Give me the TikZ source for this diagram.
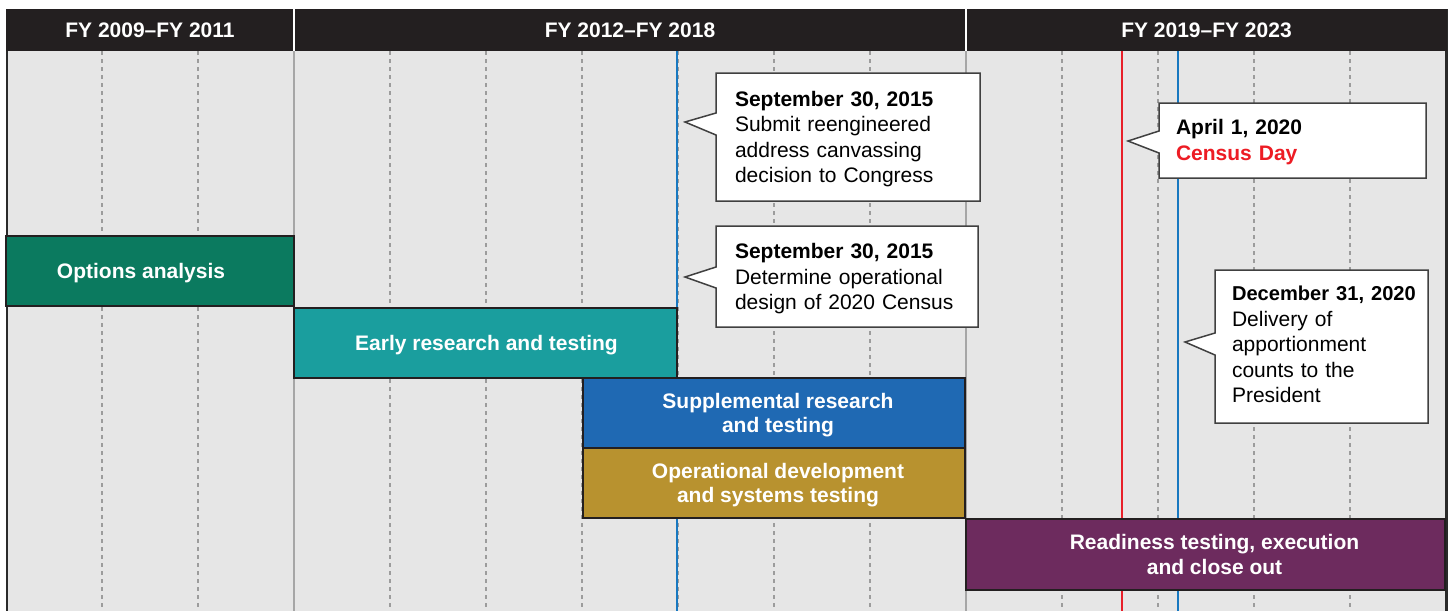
\documentclass[tikz,border=0pt]{standalone}
\usepackage{fontspec}
\setmainfont{Liberation Sans}
\usetikzlibrary{calc}

\definecolor{headbg}{HTML}{231F20}
\definecolor{panelbg}{HTML}{E6E6E6}
\definecolor{gridgray}{HTML}{9C9C9C}
\definecolor{sepgray}{HTML}{A6A6A6}
\definecolor{framedark}{HTML}{2A2A2A}
\definecolor{barline}{HTML}{231F20}
\definecolor{optgreen}{HTML}{0B7A5F}
\definecolor{earlyteal}{HTML}{1A9E9E}
\definecolor{suppblue}{HTML}{1F69B3}
\definecolor{opergold}{HTML}{B8922F}
\definecolor{readyplum}{HTML}{6D2B5E}
\definecolor{markblue}{HTML}{1878C0}
\definecolor{markred}{HTML}{E8202A}
\definecolor{censusred}{HTML}{ED1C24}
\definecolor{balloonline}{HTML}{404040}

\pgfdeclarelayer{grid}
\pgfdeclarelayer{balloons}
\pgfsetlayers{grid,balloons,main}

% indent used to nudge a centred bar label sideways
\newcommand{\nudge}[1]{\hspace*{#1}}

\begin{document}
\begin{tikzpicture}[x=1pt,y=-1pt,
  txt/.style={font=\fontsize{21}{25.5}\selectfont},
  hdr/.style={txt,font=\fontsize{21}{25.5}\selectfont\bfseries,fill=headbg,text=white,
    anchor=north west,inner sep=0,outer sep=0,minimum height=42},
  bar/.style={txt,font=\fontsize{21}{24.5}\selectfont\bfseries,draw=barline,line width=2,
    text=white,align=center,anchor=north west,inner sep=0,outer sep=0,text depth=0pt},
  balloon/.style={txt,anchor=north west,align=left,outer sep=0,inner ysep=0},
  balloonedge/.style={draw=balloonline,fill=white,line width=1.5,line join=miter},
  gridline/.style={draw=gridgray,line width=1.5,dash pattern=on 3.5pt off 4.5pt},
  sepline/.style={draw=sepgray,line width=2},
  marker/.style={line width=2.5},
]
\useasboundingbox (0,0) rectangle (1449,611);

% ---------- panel, grid and date markers ----------
\begin{pgfonlayer}{grid}
  \fill[panelbg] (6,51) rectangle (1445,611);
  \foreach \k in {1,2,4,5,6,7,8,9,11,12,13,14}
    \draw[gridline] (6+96*\k,51) -- (6+96*\k,611);
  \draw[sepline] (294,51) -- (294,611);
  \draw[sepline] (966,51) -- (966,611);
  \draw[marker,markblue] (677,51) -- (677,611);
  \draw[marker,markred] (1122,51) -- (1122,611);
  \draw[marker,markblue] (1178,51) -- (1178,611);
  \draw[framedark,line width=2] (7,9) -- (7,611);
  \draw[framedark,line width=3] (1446,9) -- (1446,611);
\end{pgfonlayer}

% ---------- period headers ----------
\node[hdr,minimum width=288] (h1) at (6,9) {FY 2009–FY 2011};
\node[hdr,minimum width=672] (h2) at (294,9) {FY 2012–FY 2018};
\node[hdr,minimum width=481] (h3) at (966,9) {FY 2019–FY 2023};
\draw[white,line width=1.5] (h1.north east) -- (h1.south east);
\draw[white,line width=1.5] (h2.north east) -- (h2.south east);

% ---------- activity bars ----------
\node[bar,fill=optgreen,minimum width=288,minimum height=70] (opt) at (6,236)
  {\nudge{-18pt}Options analysis};
\node[bar,fill=earlyteal,minimum width=383,minimum height=70] (early) at (294,308)
  {\nudge{2pt}Early research and testing};
\node[bar,fill=suppblue,minimum width=382,minimum height=70] (supp) at (583,378)
  {\nudge{8pt}Supplemental research\\\nudge{8pt}and testing};
\node[bar,fill=opergold,minimum width=382,minimum height=70] (oper) at (583,448)
  {\nudge{8pt}Operational development\\\nudge{8pt}and systems testing};
\node[bar,fill=readyplum,minimum width=479,minimum height=71] (ready) at (966,519)
  {\nudge{18pt}Readiness testing, execution\\\nudge{18pt}and close out};

% ---------- milestone balloons ----------
\coordinate (t1) at (685,122);
\coordinate (t2) at (685,277);
\coordinate (t3) at (1128,141);
\coordinate (t4) at (1185,342);

\node[balloon,inner xsep=19,text width=226,minimum height=128,text height=19.5pt] (c1) at (716,73)
  {\textbf{September~30,~2015}\\Submit~reengineered\\address~canvassing\\decision~to~Congress};
\node[balloon,inner xsep=19,text width=224,minimum height=101,text height=20pt] (c2) at (716,226)
  {\textbf{September~30,~2015}\\Determine~operational\\design~of~2020~Census};
\node[balloon,inner xsep=17,text width=233,minimum height=75,text height=18.5pt] (c3) at (1159,103)
  {\textbf{April~1,~2020}\\\textcolor{censusred}{\textbf{Census~Day}}};
\node[balloon,inner xsep=17,text width=179,minimum height=153,text height=10.5pt] (c4) at (1215,270)
  {{\fontsize{20.1}{25.5}\selectfont\textbf{December~31,~2020}}\\Delivery~of\\apportionment\\counts~to~the\\President};

\begin{pgfonlayer}{balloons}
  \path[balloonedge] (c1.north west) -- (c1.north east) -- (c1.south east) -- (c1.south west)
    -- ($(c1.north west)+(0,62)$) -- (t1) -- ($(c1.north west)+(0,40)$) -- cycle;
  \path[balloonedge] (c2.north west) -- (c2.north east) -- (c2.south east) -- (c2.south west)
    -- ($(c2.north west)+(0,62)$) -- (t2) -- ($(c2.north west)+(0,41)$) -- cycle;
  \path[balloonedge] (c3.north west) -- (c3.north east) -- (c3.south east) -- (c3.south west)
    -- ($(c3.north west)+(0,50)$) -- (t3) -- ($(c3.north west)+(0,28)$) -- cycle;
  \path[balloonedge] (c4.north west) -- (c4.north east) -- (c4.south east) -- (c4.south west)
    -- ($(c4.north west)+(0,85)$) -- (t4) -- ($(c4.north west)+(0,63)$) -- cycle;
\end{pgfonlayer}
\end{tikzpicture}
\end{document}
